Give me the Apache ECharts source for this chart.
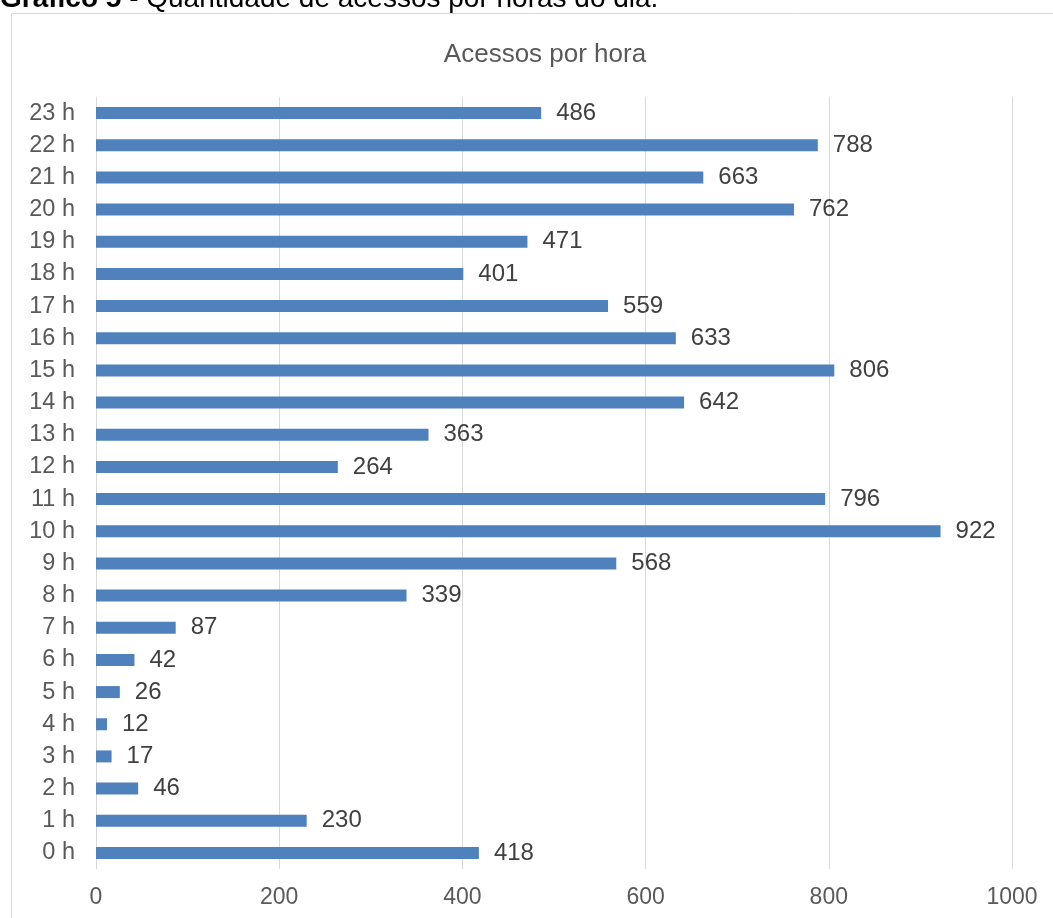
<!DOCTYPE html>
<html>
<head>
<meta charset="utf-8">
<script src="https://cdn.jsdelivr.net/npm/echarts@6/dist/echarts.min.js"></script>
<style>
html,body{margin:0;padding:0;background:#fff;}
#chart{width:1053px;height:918px;}
</style>
</head>
<body>
<div id="chart"></div>
<script>
const categories = ['0 h','1 h','2 h','3 h','4 h','5 h','6 h','7 h','8 h','9 h','10 h','11 h','12 h','13 h','14 h','15 h','16 h','17 h','18 h','19 h','20 h','21 h','22 h','23 h'];
const values = [418,230,46,17,12,26,42,87,339,568,922,796,264,363,642,806,633,559,401,471,762,663,788,486];
const xTicks = [0,200,400,600,800,1000];
const chartTitle = 'Acessos por hora';
const captionBold = 'Gráfico 5';
const captionRest = ' - Quantidade de acessos por horas do dia.';

const FONT = 'Liberation Sans, Arial, sans-serif';
const chart = echarts.init(document.getElementById('chart'));
chart.setOption({
  animation: false,
  textStyle: { fontFamily: FONT },
  title: {
    text: chartTitle,
    left: 540, top: 37, textAlign: 'center',
    textStyle: { fontSize: 26, fontWeight: 'normal', color: '#595959', fontFamily: FONT }
  },
  graphic: [
    { type: 'rect', shape: { x: 11.5, y: 13.5, width: 1200, height: 1000 }, style: { fill: 'none', stroke: '#d9d9d9', lineWidth: 1 }, silent: true },
    { type: 'text', x: 0, y: -15, style: {
        text: '{b|' + captionBold + '}{r|' + captionRest + '}',
        rich: {
          b: { fontSize: 28, fontWeight: 'bold', fill: '#000', fontFamily: FONT },
          r: { fontSize: 28, fill: '#000', fontFamily: FONT }
        }
      } }
  ],
  grid: { left: 96, right: 41, top: 97, bottom: 49, containLabel: false },
  xAxis: {
    type: 'value', min: 0, max: 1000, interval: 200,
    axisLine: { show: false }, axisTick: { show: false },
    splitLine: { show: true, lineStyle: { color: '#d9d9d9', width: 1 } },
    axisLabel: { color: '#595959', fontSize: 23, margin: 17,
      formatter: v => xTicks.includes(v) ? String(v) : '' }
  },
  yAxis: {
    type: 'category', data: categories,
    axisLine: { show: true, lineStyle: { color: '#d9d9d9' } },
    axisTick: { show: false },
    axisLabel: { color: '#595959', fontSize: 23.5, margin: 21 }
  },
  series: [{
    type: 'bar', data: values, barWidth: 12,
    itemStyle: { color: '#4f81bd' },
    label: { show: true, position: 'right', distance: 15, color: '#404040', fontSize: 24 }
  }]
});
</script>
</body>
</html>
